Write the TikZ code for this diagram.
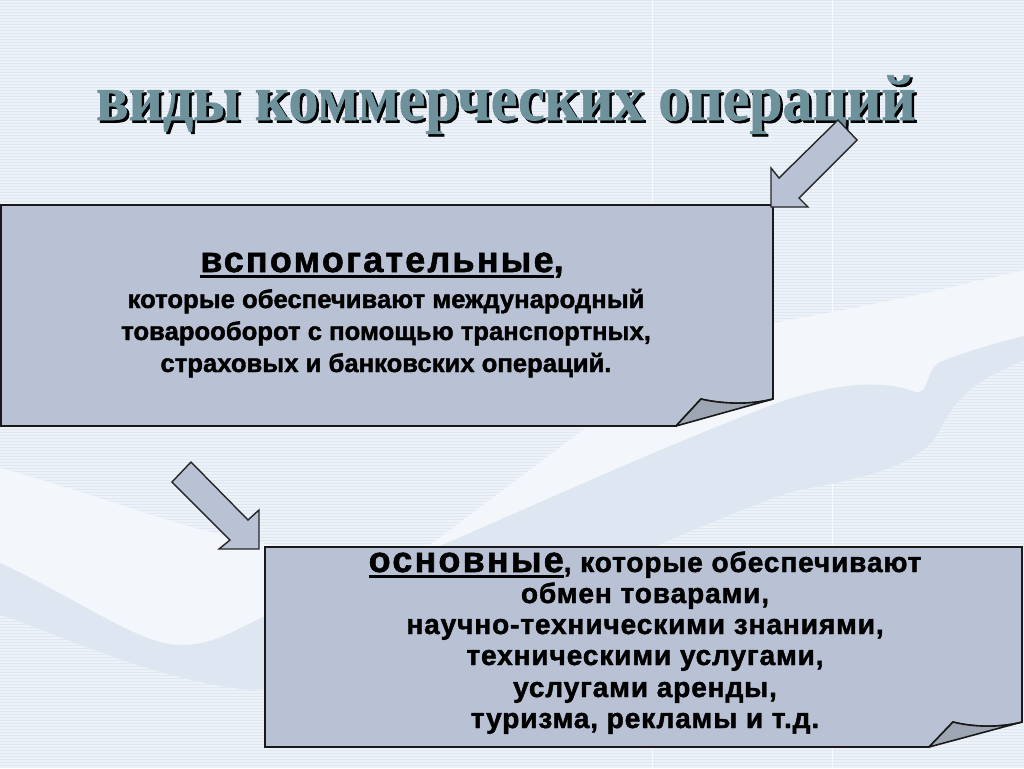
\documentclass[tikz,border=0pt]{standalone}
\usepackage{fontspec}
\usepackage{graphicx}
\setmainfont{Liberation Serif}
\newfontfamily\titlefont{Liberation Serif Bold}[FakeBold=1]
\newfontfamily\sansbody{Liberation Sans Bold}[FakeBold=1.5]
\usepackage{tikz}

\definecolor{bgbase}{HTML}{EDF2F9}
\definecolor{bgstripe}{HTML}{DFE7F2}
\definecolor{wavelight}{HTML}{F3F6FA}
\definecolor{wavedark}{HTML}{DEE7F1}
\definecolor{boxblue}{HTML}{B8C2D4}
\definecolor{foldgray}{HTML}{9FA6B3}
\definecolor{titleteal}{HTML}{6E929C}

\newcommand{\headsize}{\fontsize{20.5}{24}\selectfont\addfontfeature{LetterSpace=6}}
\newcommand{\ulword}[1]{\setbox0\hbox{#1}\rlap{\rule[-3.2pt]{\wd0}{1.4pt}}\box0}
\newcommand{\titlestretch}[1]{\scalebox{0.92}[1]{#1}}

\tikzset{
  boxfill/.style={fill=boxblue, draw=black!90, line width=0.9pt, line join=miter},
  foldfill/.style={fill=foldgray, draw=black!90, line width=0.9pt, line join=round},
  blockarrow/.style={fill=boxblue, draw=black!85, line width=0.8pt, line join=miter},
  titletext/.style={anchor=base, inner sep=0pt, font=\titlefont\fontsize{37}{40}\selectfont},
  bodytext/.style={anchor=base, inner sep=0pt, font=\sansbody\fontsize{14.6}{16}\selectfont},
  widetext/.style={anchor=base, inner sep=0pt, font=\sansbody\fontsize{16}{18}\selectfont\addfontfeature{LetterSpace=3}},
  headtext/.style={bodytext, font=\sansbody\headsize}
}

\begin{document}
\begin{tikzpicture}[x=0.02cm,y=-0.02cm]
    \useasboundingbox (0,0) rectangle (1024,768);
    % striped background
    \fill[bgbase] (0,0) rectangle (1024,768);
    \foreach \y in {0,3,...,765}
        \fill[bgstripe] (0,\y) rectangle (1024,\y+1.4);
    \draw[white!60!bgbase,line width=0.5pt] (652,0) -- (652,768) (832,0) -- (832,768);
    % faint hand in the background
    \fill[wavelight] (0,468) .. controls (120,500) and (220,548) .. (330,550) -- (430,545) -- (583,430)
        .. controls (650,380) and (720,330) .. (800,318) .. controls (900,300) and (960,285) .. (1024,270)
        -- (1024,360) .. controls (980,380) and (960,390) .. (940,430) .. controls (920,470) and (850,480) .. (790,492)
        .. controls (600,560) and (400,680) .. (250,690) .. controls (150,680) and (50,630) .. (0,615) -- cycle;
    \fill[wavedark] (0,563) .. controls (80,600) and (140,645) .. (180,645) .. controls (220,645) and (240,625) .. (280,610)
        .. controls (400,570) and (600,470) .. (780,402) .. controls (830,385) and (880,378) .. (915,392)
        .. controls (930,395) and (925,370) .. (940,362) .. controls (970,350) and (1000,342) .. (1024,336)
        -- (1024,360) .. controls (980,380) and (960,390) .. (940,430) .. controls (920,470) and (850,480) .. (790,492)
        .. controls (600,560) and (400,680) .. (250,690) .. controls (150,680) and (50,630) .. (0,615) -- cycle;

    % title with shadow
    \node[titletext, text=black] (titleshadow) at (508.5,122.5) {\titlestretch{виды коммерческих операций}};
    \node[titletext, text=titleteal] (title) at (506,120) {\titlestretch{виды коммерческих операций}};

    % upper box with turned corner
    \draw[boxfill] (1,205) -- (773,205) -- (773,399) .. controls (750,405) and (722,404) .. (701,399) -- (676,426) -- (1,426) -- cycle;
    \draw[foldfill] (676,426) -- (773,399) .. controls (750,405) and (722,404) .. (701,399) -- cycle;

    % lower box with turned corner
    \draw[boxfill] (265,547) -- (1022,547) -- (1022,722) .. controls (1000,728) and (972,727) .. (953,722) -- (929,747) -- (265,747) -- cycle;
    \draw[foldfill] (929,747) -- (1022,722) .. controls (1000,728) and (972,727) .. (953,722) -- cycle;

    % block arrows
    \draw[blockarrow] (838,120) -- (857,140) -- (799,198) -- (808,207) -- (771,207) -- (771,168) -- (779,178) -- cycle;
    \draw[blockarrow] (191,462) -- (248,520) -- (259,510) -- (259,549) -- (219,549) -- (230,540) -- (172,482) -- cycle;

    % texts
    \node[headtext] (auxhead) at (382,272) {\ulword{вспомогательные},};
    \node[bodytext] (aux1) at (386,308) {которые обеспечивают международный};
    \node[bodytext] (aux2) at (386,340) {товарооборот с помощью транспортных,};
    \node[bodytext] (aux3) at (386,372) {страховых и банковских операций.};

    \node[widetext] (mainhead) at (645,572) {{\headsize\ulword{основные}}, которые обеспечивают};
    \node[widetext] (main1) at (645,603) {обмен товарами,};
    \node[widetext] (main2) at (645,634) {научно-техническими знаниями,};
    \node[widetext] (main3) at (645,665) {техническими услугами,};
    \node[widetext] (main4) at (645,697) {услугами аренды,};
    \node[widetext] (main5) at (645,728) {туризма, рекламы и т.д.};
\end{tikzpicture}
\end{document}
